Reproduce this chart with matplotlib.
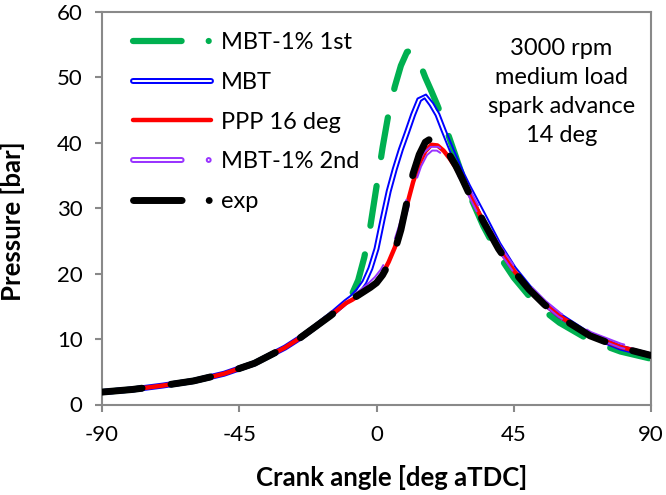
import numpy as np
import matplotlib
matplotlib.use('Agg')
import matplotlib.pyplot as plt
from matplotlib.lines import Line2D

plt.rcParams['font.family'] = ['Lato', 'DejaVu Sans']
plt.rcParams['lines.scale_dashes'] = False
plt.rcParams['axes.unicode_minus'] = False

# crank angle [deg aTDC]
theta = [-90, -80, -70, -60, -50, -40, -30, -25, -20, -15,
         -10, -8, -6, -4, -2, 0, 2, 4, 6, 8,
         10, 12, 14, 16, 18, 20, 22, 24, 26, 28,
         30, 35, 40, 45, 50, 55, 60, 70, 80, 90]

# pressure [bar]
p_mbt1_1st = [1.9, 2.3, 2.9, 3.6, 4.7, 6.3, 8.7, 10.2, 11.9, 13.7,
              15.8, 16.9, 19.0, 22.5, 27.3, 33.3, 39.3, 44.6, 48.6, 51.8,
              53.9, 54.2, 52.4, 50.0, 47.9, 45.7, 43.3, 40.6, 37.9, 35.2,
              32.6, 27.3, 22.9, 19.4, 16.6, 14.3, 12.5, 9.8, 8.1, 7.0]
p_mbt = [1.9, 2.3, 2.9, 3.6, 4.7, 6.3, 8.7, 10.2, 11.9, 13.7,
         15.7, 16.4, 17.4, 18.7, 20.8, 23.8, 28.3, 32.6, 36.0, 39.0,
         41.6, 44.3, 46.6, 47.1, 45.9, 44.3, 41.9, 39.6, 37.4, 35.3,
         33.4, 29.0, 24.5, 20.8, 17.9, 15.5, 13.6, 10.6, 8.7, 7.5]
p_ppp16 = [1.9, 2.3, 2.9, 3.6, 4.7, 6.3, 8.7, 10.2, 11.9, 13.6,
           15.5, 16.0, 16.6, 17.2, 17.9, 18.8, 20.0, 21.8, 24.0, 27.0,
           30.5, 34.0, 36.8, 38.7, 39.7, 39.6, 38.8, 37.6, 36.2, 34.5,
           32.6, 28.0, 23.9, 20.5, 17.7, 15.4, 13.5, 10.6, 8.8, 7.6]
p_mbt1_2nd = [1.9, 2.3, 2.9, 3.6, 4.7, 6.3, 8.7, 10.2, 11.9, 13.7,
              15.7, 16.3, 16.9, 17.6, 18.4, 19.3, 20.5, 22.2, 24.3, 27.2,
              30.5, 33.8, 36.5, 38.3, 39.1, 39.1, 38.5, 37.5, 36.2, 34.6,
              32.8, 28.2, 24.1, 20.7, 17.9, 15.6, 13.7, 10.8, 9.0, 7.8]
p_exp = [1.9, 2.3, 2.9, 3.6, 4.7, 6.3, 8.7, 10.2, 11.9, 13.6,
         15.5, 16.1, 16.7, 17.3, 17.9, 18.6, 19.8, 21.5, 23.5, 26.7,
         31.0, 35.3, 38.2, 40.1, 40.7, 40.3, 39.3, 38.1, 36.5, 34.6,
         32.6, 28.0, 23.8, 20.4, 17.6, 15.3, 13.4, 10.5, 8.7, 7.5]

note = '3000 rpm\nmedium load\nspark advance\n14 deg'

GREEN = '#00B050'
BLUE = '#0000FF'
RED = '#FF0000'
PURPLE = '#9933FF'
GRAY = '#898989'
LDD = (0, (35, 19.5, 0.01, 19.5))   # long dash - dot (legend samples), points
LD = (0, (29, 21))                  # what shows along the curves

fig = plt.figure(figsize=(6.66, 4.95), dpi=100)
ax = fig.add_axes([102 / 666, 1 - 404.5 / 495, 549 / 666, 392.5 / 495])
ax.set_xlim(-90, 90)
ax.set_ylim(0, 60)


def double_line(ax, x, y, color, gap_px, lw, ls='-', z=2):
    # two parallel thin lines, offset in screen space (Excel "double" line)
    pts = ax.transData.transform(np.column_stack([x, y]))
    dx = np.gradient(pts[:, 0])
    dy = np.gradient(pts[:, 1])
    n = np.hypot(dx, dy)
    nrm = np.column_stack([-dy / n, dx / n])
    inv = ax.transData.inverted()
    for s in (1, -1):
        q = inv.transform(pts + s * gap_px * nrm)
        ax.plot(q[:, 0], q[:, 1], color=color, lw=lw, ls=ls,
                dash_capstyle='round', solid_capstyle='round', zorder=z)


ax.plot(theta, p_mbt1_1st, color=GREEN, lw=4.5, ls=LD,
        dash_capstyle='round', zorder=1)
double_line(ax, theta, p_mbt, BLUE, 2.0, 1.4, z=2)
ax.plot(theta, p_ppp16, color=RED, lw=3.2, solid_capstyle='round', zorder=3)
double_line(ax, theta, p_mbt1_2nd, PURPLE, 2.0, 1.4, ls=LD, z=4)
ax.plot(theta, p_exp, color='black', lw=5, ls=LD,
        dash_capstyle='round', zorder=5)

# legend proxies
h_green = Line2D([], [], color=GREEN, lw=4.5, ls=LDD, dash_capstyle='round')
h_blue = (Line2D([], [], color=BLUE, lw=4.3, solid_capstyle='round'),
          Line2D([], [], color='white', lw=1.4, solid_capstyle='round'))
h_red = Line2D([], [], color=RED, lw=3.2, solid_capstyle='round')
h_purple = (Line2D([], [], color=PURPLE, lw=4.3, ls=LDD, dash_capstyle='round'),
            Line2D([], [], color='white', lw=1.4, ls=LDD, dash_capstyle='round'))
h_exp = Line2D([], [], color='black', lw=5, ls=LDD, dash_capstyle='round')

ax.legend([h_green, h_blue, h_red, h_purple, h_exp],
          ['MBT-1% 1st', 'MBT', 'PPP 16 deg', 'MBT-1% 2nd', 'exp'],
          loc='upper left', bbox_to_anchor=(0.0565, 0.948), frameon=False,
          fontsize=17, handlelength=3.3, handletextpad=0.42,
          labelspacing=0.79, borderpad=0, borderaxespad=0)

ax.text(0.837, 0.795, note, transform=ax.transAxes, ha='center', va='center',
        multialignment='center', fontsize=17, linespacing=1.47)

ax.set_xticks([-90, -45, 0, 45, 90])
ax.set_yticks(range(0, 61, 10))
for sp in ax.spines.values():
    sp.set_color(GRAY)
    sp.set_linewidth(1.5)
ax.tick_params(direction='out', length=5, width=1.5, color=GRAY,
               labelsize=16, labelcolor='black')
ax.tick_params(axis='x', pad=10)
ax.tick_params(axis='y', pad=9)

ax.set_xlabel('Crank angle [deg aTDC]', fontsize=18.5, fontweight='bold', va='center')
ax.xaxis.set_label_coords((391.5 - 102) / 549, (404.5 - 477) / 392.5)
ax.set_ylabel('Pressure [bar]', fontsize=18.5, fontweight='bold', va='center')
ax.yaxis.set_label_coords((13 - 102) / 549, (404.5 - 221) / 392.5)

fig.savefig('out.png', dpi=100)
